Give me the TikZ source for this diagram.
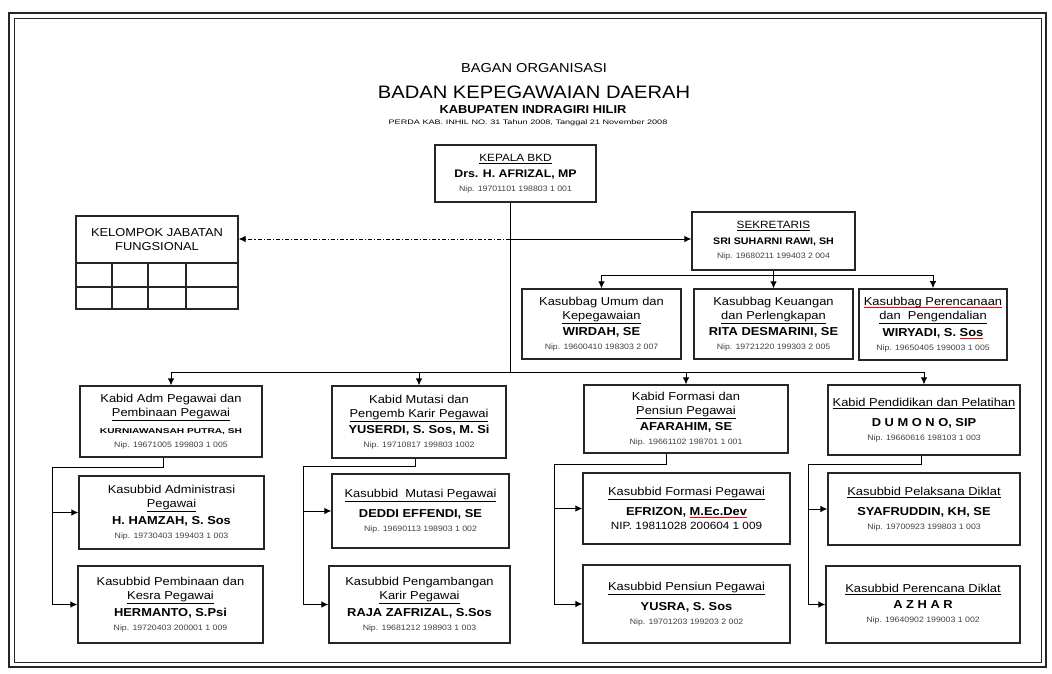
\documentclass[tikz,border=0pt]{standalone}
\usepackage{fontspec}
\setmainfont{Liberation Sans}[FakeStretch=1.12]
\usepackage{graphicx}
\usetikzlibrary{arrows.meta}
\newsavebox\rulbox
\newcommand\redul[1]{\sbox\rulbox{#1}\leavevmode\rlap{\textcolor{red}{\rule[-2.4pt]{\wd\rulbox}{0.8pt}}}\usebox\rulbox}
\newcommand\nip[1]{{\fontsize{7.8}{9}\selectfont\color{black!75}#1}}
\newcommand\nm[1]{{\bfseries #1}}
\begin{document}
\begin{tikzpicture}[x=1pt,y=-1pt,
  font=\fontsize{11.5}{14}\selectfont,
  box/.style={draw=black!85, line width=1.3pt, align=center, inner sep=1pt},
  gridln/.style={draw=black!85, line width=1.3pt},
  conn/.style={line width=0.9pt, black},
  arr/.style={conn, -{Latex[length=7pt,width=6.5pt]}},
  ddot/.style={conn, dash pattern=on 4pt off 2pt on 1.2pt off 2pt}]
\useasboundingbox (0,0) rectangle (1052,673);
% outer frame
\draw[line width=1.8pt, black!85] (9,13) rectangle (1046,667);
\draw[line width=0.9pt, black!85] (14,18) rectangle (1041,662);
% title
\node (t1) at (534,68) {\fontsize{13}{14}\selectfont BAGAN ORGANISASI};
\node (t2) at (534,92) {\fontsize{18}{20}\selectfont BADAN KEPEGAWAIAN DAERAH};
\node (t3) at (533,110) {\fontsize{11.5}{13}\selectfont\bfseries KABUPATEN INDRAGIRI HILIR};
\node (t4) at (528,123) {\scalebox{1.25}[1]{\fontsize{6.5}{7}\selectfont PERDA KAB. INHIL NO. 31 Tahun 2008, Tanggal 21 November 2008}};
% kepala
\node[box, minimum width=161, minimum height=57] (kep) at (515.5,173.5)
  {\fontsize{10.5}{12}\selectfont\underline{KEPALA BKD}\\[2pt] {\fontsize{11}{12}\selectfont\bfseries Drs. H. AFRIZAL, MP}\\ \nip{Nip. 19701101 198803 1 001}};
% kelompok
\node[box, minimum width=162, minimum height=47] (kel) at (157,239.5)
  {KELOMPOK JABATAN\\ FUNGSIONAL};
\draw[gridln] (76,263) rectangle (238,309);
\draw[gridln] (76,287) -- (238,287);
\draw[gridln] (112,263) -- (112,309);
\draw[gridln] (148,263) -- (148,309);
\draw[gridln] (186,263) -- (186,309);
% sekretaris
\node[box, minimum width=163, minimum height=58] (sek) at (773.5,241)
  {\fontsize{10.5}{12}\selectfont\underline{SEKRETARIS}\\[2pt] {\fontsize{9.5}{12}\selectfont\bfseries SRI SUHARNI RAWI, SH}\\ \nip{Nip. 19680211 199403 2 004}};
% kasubbag
\node[box, minimum width=159, minimum height=70] (sb1) at (601.5,324)
  {Kasubbag Umum dan\\ \underline{Kepegawaian}\\[2.5pt] \nm{WIRDAH, SE}\\ \nip{Nip. 19600410 198303 2 007}};
\node[box, minimum width=159, minimum height=70] (sb2) at (773.5,324)
  {Kasubbag Keuangan\\ \underline{dan Perlengkapan}\\[2.5pt] \nm{RITA DESMARINI, SE}\\ \nip{Nip. 19721220 199303 2 005}};
\node[box, line width=1.8pt, minimum width=148, minimum height=71] (sb3) at (933,324.5)
  {\redul{Kasubbag Perencanaan}\\ \underline{dan\ \ Pengendalian}\\[2.5pt] \nm{WIRYADI, S. \redul{Sos}}\\ \nip{Nip. 19650405 199003 1 005}};
% kabid
\node[box, minimum width=182, minimum height=71] (kb1) at (171,421.5)
  {Kabid Adm Pegawai dan\\ \underline{Pembinaan Pegawai}\\[2.5pt] \scalebox{1.3}[1]{\fontsize{7}{8}\selectfont\bfseries KURNIAWANSAH PUTRA, SH}\\ \nip{Nip. 19671005 199803 1 005}};
\node[box, minimum width=174, minimum height=72] (kb2) at (419,422)
  {Kabid Mutasi dan\\ \underline{Pengemb Karir Pegawai}\\[2.5pt] \nm{YUSERDI, S. Sos, M. Si}\\ \nip{Nip. 19710817 199803 1002}};
\node[box, minimum width=204, minimum height=68] (kb3) at (686,419)
  {Kabid Formasi dan\\ \underline{Pensiun Pegawai}\\[2.5pt] \nm{AFARAHIM, SE}\\ \nip{Nip. 19661102 198701 1 001}};
\node[box, minimum width=192, minimum height=70] (kb4) at (924,420)
  {\underline{Kabid Pendidikan dan Pelatihan}\\[6pt] \nm{D U M O N O, SIP}\\ \nip{Nip. 19660616 198103 1 003}};
% kasubbid row 1
\node[box, minimum width=185, minimum height=73] (c11) at (171.5,512.5)
  {Kasubbid Administrasi\\ \underline{Pegawai}\\[2.5pt] \nm{H. HAMZAH, S. Sos}\\ \nip{Nip. 19730403 199403 1 003}};
\node[box, minimum width=177, minimum height=74] (c21) at (420.5,511)
  {\underline{Kasubbid\ \ Mutasi Pegawai}\\[6pt] \nm{DEDDI EFFENDI, SE}\\ \nip{Nip. 19690113 198903 1 002}};
\node[box, minimum width=207, minimum height=71] (c31) at (686.5,508.5)
  {\underline{Kasubbid Formasi Pegawai}\\[6pt] \nm{EFRIZON, \redul{M.Ec.Dev}}\\ {\fontsize{10.5}{12}\selectfont NIP. 19811028 200604 1 009}};
\node[box, minimum width=192, minimum height=72] (c41) at (924,509)
  {\underline{Kasubbid Pelaksana Diklat}\\[6pt] \nm{SYAFRUDDIN, KH, SE}\\ \nip{Nip. 19700923 199803 1 003}};
% kasubbid row 2
\node[box, minimum width=185, minimum height=77] (c12) at (170.5,604.5)
  {Kasubbid Pembinaan dan\\ \underline{Kesra Pegawai}\\[2.5pt] \nm{HERMANTO, S.Psi}\\ \nip{Nip. 19720403 200001 1 009}};
\node[box, minimum width=181, minimum height=77] (c22) at (419.5,604.5)
  {Kasubbid Pengambangan\\ \underline{Karir Pegawai}\\[2.5pt] \nm{RAJA ZAFRIZAL, S.Sos}\\ \nip{Nip. 19681212 198903 1 003}};
\node[box, minimum width=207, minimum height=78] (c32) at (686.5,604)
  {\underline{Kasubbid Pensiun Pegawai}\\[6pt] \nm{YUSRA, S. Sos}\\ \nip{Nip. 19701203 199203 2 002}};
\node[box, minimum width=194, minimum height=77] (c42) at (923,604.5)
  {\underline{Kasubbid Perencana Diklat}\\[2pt] \nm{A Z H A R}\\ \nip{Nip. 19640902 199003 1 002}};
% connectors
\coordinate (kbus) at (510,372);
\coordinate (jx) at (510,239);
\draw[conn] (kep.south -| kbus) -- (kbus);
\draw[arr, ddot] (jx) -- (jx -| kel.east);
\draw[arr] (jx) -- (jx -| sek.west);
\draw[conn] (sek.south) -- ++(0,5) coordinate (sbus);
\draw[arr] (sbus) -| (sb1.north);
\draw[arr] (sbus) -- (sb2.north);
\draw[arr] (sbus) -| (sb3.north);
\draw[arr] (kbus) -| (kb1.north);
\draw[arr] (kbus) -| (kb2.north);
\draw[arr] (kbus) -| (kb3.north);
\draw[arr] (kbus) -| (kb4.north);
\coordinate (v1) at (52,467);
\coordinate (v2) at (303,466);
\coordinate (v3) at (554,464);
\coordinate (v4) at (808,464);
\draw[arr] (kb1.south -| 163,0) |- (v1) |- (c12.west);
\draw[arr] (v1) |- (c11.west);
\draw[arr] (kb2.south -| 415,0) |- (v2) |- (c22.west);
\draw[arr] (v2) |- (c21.west);
\draw[arr] (kb3.south -| 666,0) |- (v3) |- (c32.west);
\draw[arr] (v3) |- (c31.west);
\draw[arr] (kb4.south -| 921,0) |- (v4) |- (c42.west);
\draw[arr] (v4) |- (c41.west);
\end{tikzpicture}
\end{document}
